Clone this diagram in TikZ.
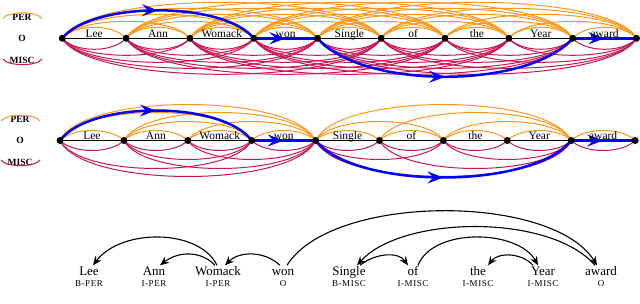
\documentclass[tikz,border=0pt]{standalone}
\usepackage{fontspec}
\setmainfont{Liberation Serif}
\usetikzlibrary{arrows.meta,decorations.markings,backgrounds}
\definecolor{perc}{RGB}{255,150,25}
\definecolor{miscc}{RGB}{200,22,80}
\definecolor{pathc}{RGB}{0,0,255}
\begin{document}
\begin{tikzpicture}[x=1pt,y=-1pt,
  dot/.style={circle,fill=black,inner sep=0pt,minimum size=7pt},
  perarc/.style={draw=perc,line width=1pt},
  miscarc/.style={draw=miscc,line width=1pt},
  chainline/.style={draw=black,line width=1pt},
  bluepath/.style={draw=pathc,line width=2.5pt,postaction={decorate},
    decoration={markings,mark=at position 0.5 with {\arrow[pathc]{Stealth[length=16pt,width=12pt,inset=6pt]}}}},
  wlab/.style={font=\fontsize{11.5}{12}\selectfont,inner sep=0pt,anchor=base},
  leglab/.style={font=\fontsize{9.5}{10}\selectfont\bfseries,inner sep=0pt},
  depword/.style={font=\fontsize{13}{14}\selectfont,inner sep=1pt,anchor=base,text height=9.5pt,text depth=2.5pt},
  deptag/.style={font=\fontsize{9}{10}\selectfont\addfontfeatures{LetterSpace=6},inner sep=0pt,anchor=base},
  deparc/.style={draw=black,line width=1.1pt,-{Stealth[length=9pt,width=7.5pt,inset=3pt]}}
]
\useasboundingbox (0,0) rectangle (640,304);

% ---------- legends ----------
\node[leglab] (per1) at (22,17) {PER};
\node[leglab] (o1) at (22,38.5) {O};
\node[leglab] (misc1) at (22,60) {MISC};
\draw[perarc] (3,18.5) .. controls (8,11) and (37,11) .. (42,18.5);
\draw[miscarc] (3,59) .. controls (8,66.5) and (37,66.5) .. (42,59);

\node[leglab] (per2) at (20,119) {PER};
\node[leglab] (o2) at (20,140.5) {O};
\node[leglab] (misc2) at (20,162) {MISC};
\draw[perarc] (1,121) .. controls (6,113.5) and (35,113.5) .. (40,121);
\draw[miscarc] (1,160) .. controls (6,167.5) and (35,167.5) .. (40,160);

% ---------- row 1 nodes ----------
\foreach \k in {0,...,9}{
  \pgfmathsetmacro\xx{62.3+63.8*\k}
  \node[dot] (a\k) at (\xx,38.3) {};
}
% ---------- row 2 nodes ----------
\foreach \k in {0,...,9}{
  \pgfmathsetmacro\xx{60+63.9*\k}
  \node[dot] (b\k) at (\xx,140.5) {};
}

\begin{pgfonlayer}{background}
% row 1 lattice: all spans of length 1..5
\foreach \L/\h in {1/11,2/17,3/24,4/30,5/36}{
  \pgfmathtruncatemacro\last{9-\L}
  \pgfmathsetmacro\c{\h*4/3}
  \pgfmathsetmacro\a{10+0.05*63.8*\L}
  \foreach \i in {0,...,\last}{
    \pgfmathtruncatemacro\j{\i+\L}
    \draw[perarc] (a\i.center) .. controls +(\a,-\c) and +(-\a,-\c) .. (a\j.center);
    \draw[miscarc] (a\i.center) .. controls +(\a,\c) and +(-\a,\c) .. (a\j.center);
  }
}
\draw[chainline] (a0.center) -- (a9.center);
\draw[bluepath] (a0.center) .. controls +(30,-37.3) and +(-30,-37.3) .. (a3.center);
\draw[bluepath] (a3.center) -- (a4.center);
\draw[bluepath] (a4.center) .. controls +(45,51.3) and +(-45,51.3) .. (a8.center);
\draw[bluepath] (a8.center) -- (a9.center);

% row 2 lattice: dependency-guided spans
\foreach \i/\j/\h in {0/1/10,1/2/10,2/3/10,3/4/10,4/5/10,5/6/10,6/7/10,7/8/10,8/9/10,
                      1/3/19,2/4/19,4/6/19,6/8/19,0/3/28,1/4/28,5/8/28,0/4/36,4/8/36}{
  \pgfmathsetmacro\c{\h*4/3}
  \pgfmathsetmacro\a{10+0.05*63.9*(\j-\i)}
  \draw[perarc] (b\i.center) .. controls +(\a,-\c) and +(-\a,-\c) .. (b\j.center);
  \draw[miscarc] (b\i.center) .. controls +(\a,\c) and +(-\a,\c) .. (b\j.center);
}
\draw[chainline] (b0.center) -- (b9.center);
\draw[bluepath] (b0.center) .. controls +(30,-40) and +(-30,-40) .. (b3.center);
\draw[bluepath] (b3.center) -- (b4.center);
\draw[bluepath] (b4.center) .. controls +(40,49.3) and +(-40,49.3) .. (b8.center);
\draw[bluepath] (b8.center) -- (b9.center);
\end{pgfonlayer}

% ---------- word labels in the lattices ----------
\foreach \w [count=\n from 0] in {Lee,Ann,Womack,won,Single,of,the,Year,award}{
  \pgfmathsetmacro\xa{62.3+63.8*\n+31.9}
  \pgfmathsetmacro\xb{60+63.9*\n+31.95}
  \node[wlab] (ta\n) at (\xa,37.2) {\w};
  \node[wlab] (tb\n) at (\xb,139.4) {\w};
}

% ---------- dependency tree ----------
\node[depword] (lee) at (89,276) {Lee};
\node[depword] (ann) at (154,276) {Ann};
\node[depword] (wom) at (218,276) {Womack};
\node[depword] (won) at (283,276) {won};
\node[depword] (sin) at (349,276) {Single};
\node[depword] (of) at (413,276) {of};
\node[depword] (the) at (478,276) {the};
\node[depword] (yea) at (543,276) {Year};
\node[depword] (awa) at (601,276) {award};

\node[deptag] (glee) at (89,286.5) {B-PER};
\node[deptag] (gann) at (154,286.5) {I-PER};
\node[deptag] (gwom) at (218,286.5) {I-PER};
\node[deptag] (gwon) at (283,286.5) {O};
\node[deptag] (gsin) at (349,286.5) {B-MISC};
\node[deptag] (gof) at (413,286.5) {I-MISC};
\node[deptag] (gthe) at (478,286.5) {I-MISC};
\node[deptag] (gyea) at (543,286.5) {I-MISC};
\node[deptag] (gawa) at (601,286.5) {O};

\draw[deparc] ([xshift=-1pt]wom.north) .. controls +(-18,-37) and +(28,-37) .. ([xshift=4pt]lee.north);
\draw[deparc] ([xshift=-3pt]wom.north) .. controls +(-14,-15) and +(18,-14) .. ([xshift=6pt]ann.north);
\draw[deparc] ([xshift=-3pt]won.north) .. controls +(-16,-15) and +(14,-14) .. ([xshift=7pt]wom.north);
\draw[deparc] ([xshift=4pt]won.north) .. controls +(45,-72) and +(-45,-72) .. ([xshift=-4pt]awa.north);
\draw[deparc] ([xshift=-6pt]awa.north) .. controls +(-45,-52) and +(45,-50) .. ([xshift=8pt]sin.north);
\draw[deparc] ([xshift=11pt]sin.north) .. controls +(15,-12) and +(-10,-14) .. ([xshift=-5pt]of.north);
\draw[deparc] ([xshift=5pt]of.north) .. controls +(15,-38) and +(-20,-36) .. ([xshift=-5pt]yea.north);
\draw[deparc] ([xshift=-10pt]yea.north) .. controls +(-12,-13) and +(10,-13) .. ([xshift=10pt]the.north);
\end{tikzpicture}
\end{document}
